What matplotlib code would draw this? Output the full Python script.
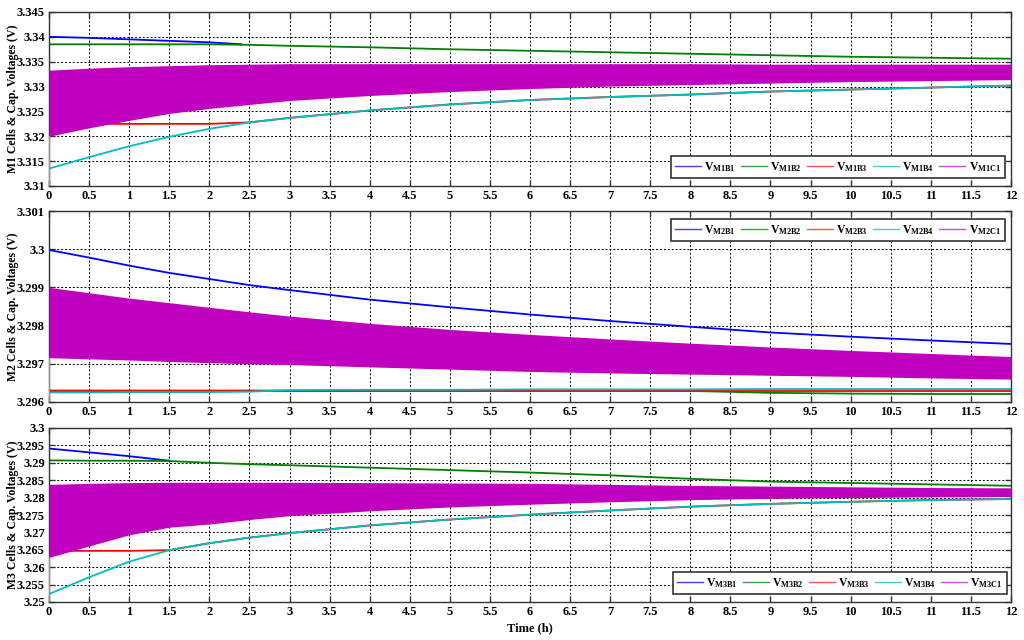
#!/usr/bin/env python3

import matplotlib
matplotlib.use("Agg")
import matplotlib.pyplot as plt
from matplotlib.ticker import MultipleLocator, FuncFormatter

plt.rcParams.update({
    'font.family': 'Liberation Serif',
    'font.weight': 'bold',
    'font.size': 9,
    'mathtext.fontset': 'custom',
    'mathtext.rm': 'Liberation Serif:bold',
    'mathtext.it': 'Liberation Serif:bold',
    'mathtext.bf': 'Liberation Serif:bold',
})

# time axis (h)
t = [0, 0.5, 1, 1.5, 2, 2.5, 3, 4, 5, 6, 7, 8, 9, 10, 11, 12]

# ---- module 1 ----
m1_b1_t = [0, 0.5, 1, 1.5, 2, 2.4]
m1_b1 = [3.3400, 3.3398, 3.3395, 3.3392, 3.3389, 3.3385]
m1_b2 = [3.3385, 3.3385, 3.3385, 3.3385, 3.3385, 3.3384, 3.3382, 3.3379,
         3.3375, 3.3372, 3.3369, 3.3366, 3.3363, 3.3360, 3.3358, 3.3356]
m1_b3 = [3.3225, 3.3225, 3.3225, 3.3225, 3.3225, 3.3228, 3.3237, 3.3252,
         3.3264, 3.3273, 3.3279, 3.3284, 3.3290, 3.3294, 3.3298, 3.3302]
m1_b4 = [3.3135, 3.3158, 3.3180, 3.3199, 3.3215, 3.3228, 3.3237, 3.3252,
         3.3264, 3.3273, 3.3279, 3.3284, 3.3290, 3.3294, 3.3298, 3.3302]
m1_c1_hi = [3.3333, 3.3337, 3.3340, 3.3342, 3.3344, 3.3345, 3.3346, 3.3346,
            3.3346, 3.3346, 3.3346, 3.3346, 3.3345, 3.3345, 3.3345, 3.3345]
m1_c1_lo = [3.3200, 3.3217, 3.3232, 3.3246, 3.3256, 3.3264, 3.3272, 3.3282,
            3.3290, 3.3296, 3.3301, 3.3304, 3.3307, 3.3310, 3.3312, 3.3314]
m1_c1_start = 3.3100

# ---- module 2 ----
m2_b1_t = t
m2_b1 = [3.29998, 3.29978, 3.29957, 3.29938, 3.29922, 3.29906, 3.29893, 3.29868,
         3.29848, 3.29829, 3.29812, 3.29797, 3.29782, 3.29771, 3.29761, 3.29752]
m2_b2 = [3.29630, 3.29630, 3.29630, 3.29630, 3.29630, 3.29630, 3.29630, 3.29630,
         3.29630, 3.29630, 3.29630, 3.29629, 3.29624, 3.29622, 3.29621, 3.29621]
m2_b3 = [3.29628, 3.29628, 3.29628, 3.29628, 3.29628, 3.29628, 3.29628, 3.29628,
         3.29628, 3.29628, 3.29628, 3.29628, 3.29628, 3.29628, 3.29628, 3.29628]
m2_b4 = [3.29625, 3.29625, 3.29626, 3.29626, 3.29626, 3.29627, 3.29631, 3.29632,
         3.29632, 3.29633, 3.29633, 3.29633, 3.29634, 3.29634, 3.29634, 3.29634]
m2_c1_hi = [3.29900, 3.29886, 3.29872, 3.29860, 3.29848, 3.29836, 3.29825, 3.29806,
            3.29790, 3.29777, 3.29765, 3.29754, 3.29744, 3.29735, 3.29727, 3.29719]
m2_c1_lo = [3.29716, 3.29713, 3.29710, 3.29706, 3.29703, 3.29700, 3.29698, 3.29692,
            3.29686, 3.29680, 3.29676, 3.29673, 3.29670, 3.29667, 3.29663, 3.29660]
m2_c1_start = 3.2960

# ---- module 3 ----
m3_b1_t = [0, 0.5, 1, 1.5]
m3_b1 = [3.2941, 3.2930, 3.2919, 3.2906]
m3_b2 = [3.2907, 3.2906, 3.2906, 3.2905, 3.2900, 3.2896, 3.2893, 3.2886,
         3.2879, 3.2872, 3.2864, 3.2854, 3.2846, 3.2842, 3.2838, 3.2834]
m3_b3 = [3.2647, 3.2647, 3.2647, 3.2649, 3.2669, 3.2685, 3.2698, 3.2720,
         3.2737, 3.2751, 3.2763, 3.2774, 3.2782, 3.2788, 3.2793, 3.2796]
m3_b4 = [3.2523, 3.2571, 3.2616, 3.2649, 3.2669, 3.2685, 3.2698, 3.2720,
         3.2737, 3.2751, 3.2763, 3.2774, 3.2782, 3.2788, 3.2793, 3.2796]
m3_c1_hi = [3.2838, 3.2841, 3.2843, 3.2844, 3.2844, 3.2844, 3.2844, 3.2843,
            3.2842, 3.2841, 3.2838, 3.2835, 3.2833, 3.2831, 3.2829, 3.2828]
m3_c1_lo = [3.2628, 3.2661, 3.2693, 3.2715, 3.2724, 3.2737, 3.2748, 3.2762,
            3.2773, 3.2781, 3.2788, 3.2794, 3.2798, 3.2800, 3.2802, 3.2803]
m3_c1_start = 3.2500

panels = [
    dict(name='M1', b1t=m1_b1_t, b=[m1_b1, m1_b2, m1_b3, m1_b4], hi=m1_c1_hi,
         lo=m1_c1_lo, start=m1_c1_start, ylim=(3.31, 3.345), ystep=0.005,
         rect=[49/1024, 1-186/640, 962/1024, 174/640], leg='lower right',
         anchor=(0.996, 0.03)),
    dict(name='M2', b1t=m2_b1_t, b=[m2_b1, m2_b2, m2_b3, m2_b4], hi=m2_c1_hi,
         lo=m2_c1_lo, start=m2_c1_start, ylim=(3.296, 3.301), ystep=0.001,
         rect=[49/1024, 1-402/640, 962/1024, 191/640], leg='upper right',
         anchor=(0.996, 0.97)),
    dict(name='M3', b1t=m3_b1_t, b=[m3_b1, m3_b2, m3_b3, m3_b4], hi=m3_c1_hi,
         lo=m3_c1_lo, start=m3_c1_start, ylim=(3.25, 3.3), ystep=0.005,
         rect=[49/1024, 1-602/640, 962/1024, 174/640], leg='lower right',
         anchor=(0.998, 0.03)),
]

colors = ['#0000ff', '#008000', '#ff0000', '#00bfbf']
leg_colors = ['#4040ff', '#40a040', '#ff5050', '#40d0d0', '#d050d0']
mag = '#bf00bf'

fig = plt.figure()
fig.set_size_inches(10.24, 6.4)

for i, p in enumerate(panels):
    ax = fig.add_axes(p['rect'])
    idx = p['name'][1]
    for k, (s, c) in enumerate(zip(p['b'], colors)):
        tt = p['b1t'] if k == 0 else t
        ax.plot(tt, s, color=c, lw=1.3)
    ax.fill_between(t, p['lo'], p['hi'], color=mag, lw=0, zorder=3)
    ax.vlines(t[0], p['start'], p['lo'][0], color='#e060e0', lw=1.5, zorder=3)

    handles = []
    names = ['B1', 'B2', 'B3', 'B4', 'C1']
    for nm, c in zip(names, leg_colors):
        h, = ax.plot([], [], color=c, lw=1.0,
                     label='V$_{\\mathrm{M%s%s}}$' % (idx, nm))
        handles.append(h)

    ax.set_xlim(0, 12)
    ax.set_ylim(*p['ylim'])
    ax.xaxis.set_major_locator(MultipleLocator(0.5))
    ax.yaxis.set_major_locator(MultipleLocator(p['ystep']))
    ax.xaxis.set_major_formatter(FuncFormatter(lambda v, pos: f'{round(v, 4):g}'))
    ax.yaxis.set_major_formatter(FuncFormatter(lambda v, pos: f'{round(v, 4):g}'))
    ax.tick_params(direction='in', top=True, right=True, length=4, width=1,
                   color='#333333', labelsize=9, pad=3)
    ax.grid(True, color='black', linestyle=(0, (2, 2)), lw=0.7)
    for sp in ax.spines.values():
        sp.set_color('#333333')
        sp.set_linewidth(1.0)
    ax.set_ylabel('%s Cells & Cap. Voltages (V)' % p['name'], fontsize=8.5,
                  fontweight='bold')
    ax.yaxis.set_label_coords(-30 / 962, 0.5)
    leg = ax.legend(handles=handles, loc=p['leg'], bbox_to_anchor=p['anchor'],
                    ncol=5, fontsize=8.5, frameon=True, fancybox=False,
                    edgecolor='#333333', framealpha=1, handlelength=2.2,
                    columnspacing=0.4, handletextpad=0.3, borderpad=0.35,
                    borderaxespad=0.2)
    leg.get_frame().set_linewidth(1.2)
    leg.set_zorder(10)
    if i == 2:
        ax.set_xlabel('Time (h)', fontsize=9, fontweight='bold', labelpad=3)

fig.savefig('out.png', dpi=100)
